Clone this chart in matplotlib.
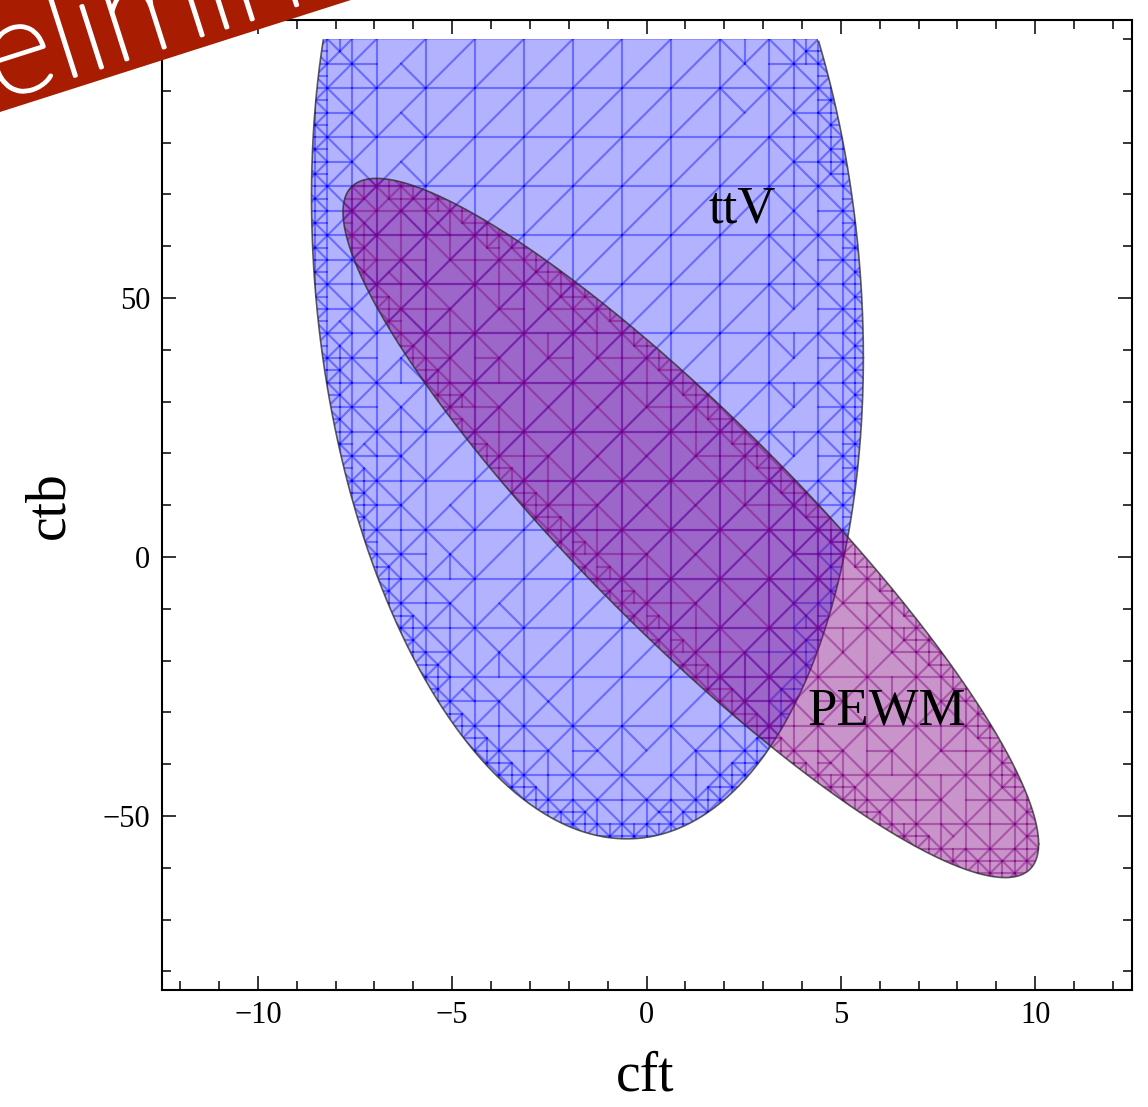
import numpy as np
import matplotlib

matplotlib.use("Agg")

import matplotlib.pyplot as plt
import matplotlib.patheffects as pe
from matplotlib.collections import LineCollection
from matplotlib.patches import Polygon

# plot range the regions were sampled on
cft_range = [-12.0, 12.0]
ctb_range = [-80.0, 100.0]
n_points = 20  # initial sampling grid per axis

# allowed regions: centre and (x amplitude, y cos term, y sin term) of each ellipse
ttv_center = [-1.52, 54.0]
ttv_shape = [7.1, -15.5, 107.3]
pewm_center = [1.14, 5.6]
pewm_shape = [8.95, -61.0, 28.9]

region_labels = ["ttV", "PEWM"]
label_pos_cft = [2.45, 6.19]
label_pos_ctb = [67.0, -29.8]

x_major = [-10, -5, 0, 5, 10]
y_major = [-50, 0, 50]

W, H = 1148, 1107


def region_value(x, y, center, shape):
    a, b, c = shape
    u = (x - center[0]) / a
    v = (y - center[1] - b * u) / c
    return u * u + v * v - 1.0


def outline(center, shape, n=720):
    t = np.linspace(0, 2 * np.pi, n)
    a, b, c = shape
    return center[0] + a * np.cos(t), center[1] + b * np.cos(t) + c * np.sin(t)


def build_mesh(center, shape, max_depth=4):
    dx = (cft_range[1] - cft_range[0]) / (n_points - 1)
    dy = (ctb_range[1] - ctb_range[0]) / (n_points - 1)

    def to_data(p):
        return cft_range[0] + p[..., 0] * dx, ctb_range[0] + p[..., 1] * dy

    def crosses(tri, grow):
        c = tri.mean(axis=0)
        big = c + grow * (tri - c)
        pts = np.vstack([big, (big + np.roll(big, 1, axis=0)) / 2, [c]])
        x, y = to_data(pts)
        vals = region_value(x, y, center, shape)
        return vals.min() < 0 < vals.max()

    segs = []

    def refine(tri, depth):
        grow = 3.0 if depth < 2 else 1.6
        if depth < max_depth and crosses(tri, grow):
            lens = [np.sum((tri[(k + 1) % 3] - tri[(k + 2) % 3]) ** 2) for k in range(3)]
            k = int(np.argmax(lens))
            a, b = tri[(k + 1) % 3], tri[(k + 2) % 3]
            m = (a + b) / 2
            refine(np.array([tri[k], a, m]), depth + 1)
            refine(np.array([tri[k], m, b]), depth + 1)
            return
        x, y = to_data(tri)
        for k in range(3):
            segs.append([(x[k], y[k]), (x[(k + 1) % 3], y[(k + 1) % 3])])

    for i in range(n_points - 1):
        for j in range(n_points - 1):
            p00, p10 = np.array([i, j]), np.array([i + 1, j])
            p11, p01 = np.array([i + 1, j + 1]), np.array([i, j + 1])
            refine(np.array([p00, p10, p11], float), 0)
            refine(np.array([p00, p11, p01], float), 0)
    return segs


fig = plt.figure(figsize=(W / 100, H / 100), dpi=100)
ax = fig.add_axes([161.5 / W, 1 - 990 / H, 970 / W, 969.6 / H])

pad_x = 0.02 * (cft_range[1] - cft_range[0])
pad_y = 0.02 * (ctb_range[1] - ctb_range[0])
ax.set_xlim(cft_range[0] - pad_x, cft_range[1] + pad_x)
ax.set_ylim(ctb_range[0] - pad_y, ctb_range[1] + pad_y)

styles = [
    (ttv_center, ttv_shape, (0.0, 0.0, 1.0), 0.30, 0.22),
    (pewm_center, pewm_shape, (0.5, 0.0, 0.5), 0.42, 0.24),
]
for z, (center, shape, rgb, fill_alpha, mesh_alpha) in enumerate(styles):
    xs, ys = outline(center, shape)
    ys_clip = np.clip(ys, ctb_range[0], ctb_range[1])
    patch = Polygon(np.column_stack([xs, ys_clip]), closed=True,
                    facecolor=(*rgb, fill_alpha), edgecolor="none", zorder=2 + 3 * z)
    ax.add_patch(patch)
    mesh = LineCollection(build_mesh(center, shape), colors=[(*rgb, mesh_alpha)],
                          linewidths=1.5, capstyle="round", zorder=3 + 3 * z)
    ax.add_collection(mesh)
    mesh.set_clip_path(patch)
    edge_y = np.ma.masked_where(ys > ctb_range[1], ys)
    ax.plot(xs, edge_y, color="#2a2a2a", alpha=0.75, lw=1.2, zorder=4 + 3 * z)

serif = "Liberation Serif"
for name, cx, cy in zip(region_labels, label_pos_cft, label_pos_ctb):
    ax.text(cx, cy, name, fontsize=38, family=serif, ha="center", va="center", zorder=10)

ax.set_xticks(x_major)
ax.set_xticklabels([str(v).replace("-", "\u2212") for v in x_major])
ax.set_yticks(y_major)
ax.set_yticklabels([str(v).replace("-", "\u2212") for v in y_major])
ax.set_xticks([v for v in range(-12, 13) if v not in x_major], minor=True)
ax.set_yticks([v for v in range(-80, 101, 10) if v not in y_major], minor=True)
ax.tick_params(which="both", direction="in", top=True, right=True, width=1.1)
ax.tick_params(which="major", length=10, labelsize=22, pad=8)
ax.tick_params(which="minor", length=6.5)
for lab in ax.get_xticklabels() + ax.get_yticklabels():
    lab.set_family(serif)
for sp in ax.spines.values():
    sp.set_linewidth(1.5)

ax.set_xlabel("cft", fontsize=40, family=serif)
ax.set_ylabel("ctb", fontsize=40, family=serif)
ax.xaxis.set_label_coords(0.499, -0.062)
ax.yaxis.set_label_coords(-0.089, 0.5)

# corner banner, laid out in pixel units from the top-left corner
theta = np.deg2rad(17.7)
along = np.array([np.cos(theta), -np.sin(theta)])
normal = np.array([-np.sin(theta), -np.cos(theta)])
base = np.array([0.0, 112.0])
corners = [base - 400 * along, base + 600 * along,
           base + 600 * along + 150 * normal, base - 400 * along + 150 * normal]
fig.patches.append(Polygon([(px / W, 1 - py / H) for px, py in corners], closed=True,
                           transform=fig.transFigure, facecolor="#a81c02",
                           edgecolor="none", zorder=20))
start = np.array([-116.0, 137.0])
fig.text(start[0] / W, 1 - start[1] / H, "Preliminary", color="white", fontsize=95,
         family=["Lato", "DejaVu Sans"], fontweight="light", rotation=17.7,
         rotation_mode="anchor", ha="left", va="baseline", zorder=21,
         path_effects=[pe.withStroke(linewidth=2.5, foreground="white")])

fig.savefig("out.png", dpi=100)
